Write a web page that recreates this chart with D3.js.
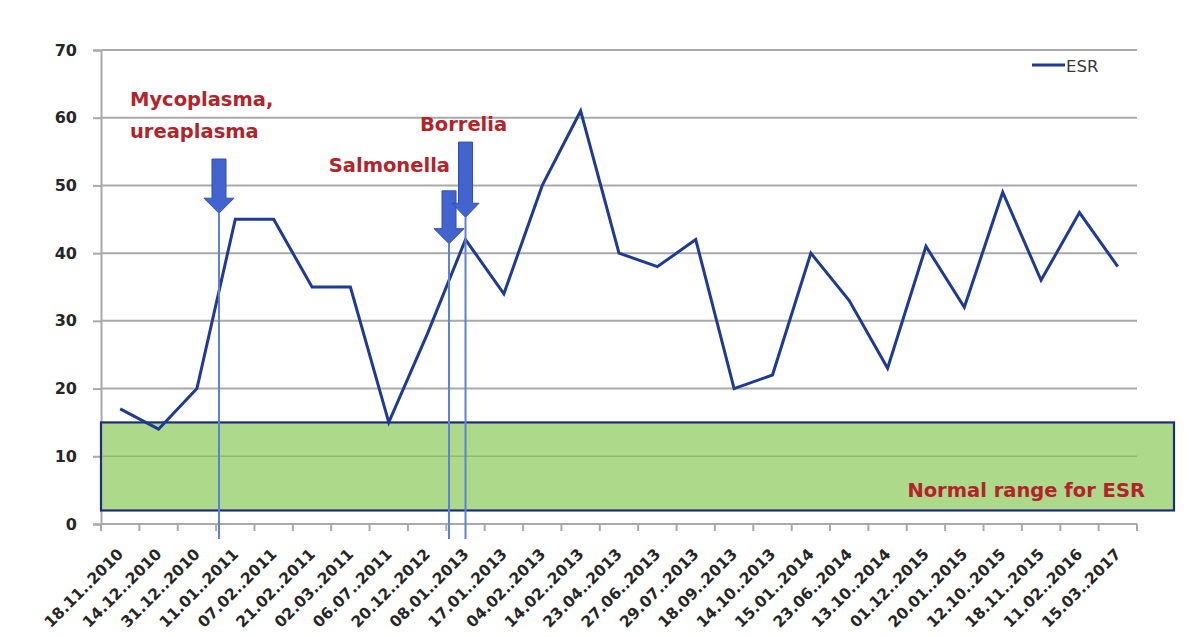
<!DOCTYPE html>
<html>
<head>
<meta charset="utf-8">
<script src="https://cdn.jsdelivr.net/npm/d3@7"></script>
<style>
  body { margin: 0; background: #fff; }
  svg { display: block; }
</style>
</head>
<body>
<svg id="chart" width="1192" height="637"></svg>
<script>
// Sampling dates (as printed on the chart)
const dates = [
  "18.11..2010", "14.12..2010", "31.12..2010", "11.01..2011", "07.02..2011",
  "21.02..2011", "02.03..2011", "06.07..2011", "20.12..2012", "08.01..2013",
  "17.01..2013", "04.02..2013", "14.02..2013", "23.04..2013", "27.06..2013",
  "29.07..2013", "18.09..2013", "14.10..2013", "15.01..2014", "23.06..2014",
  "13.10..2014", "01.12..2015", "20.01..2015", "12.10..2015", "18.11..2015",
  "11.02..2016", "15.03..2017"
];

// Erythrocyte sedimentation rate, mm/h
const esr = [
  17, 14, 20, 45, 45, 35, 35, 15, 28, 42,
  34, 50, 61, 40, 38, 42, 20, 22, 40, 33,
  23, 41, 32, 49, 36, 46, 38
];

const yTicks = [0, 10, 20, 30, 40, 50, 60, 70];

// Reference interval for ESR
const normalRange = [2, 15];
const normalLabel = "Normal range for ESR";

// Detected infections: fractional category position, arrow top and tip values
const infections = [
  { lines: ["Mycoplasma,", "ureaplasma"], at: 2.575, top: 53.9, tip: 45.9 },
  { lines: ["Salmonella"], at: 8.57, top: 49.2, tip: 41.4 },
  { lines: ["Borrelia"], at: 9.0, top: 56.4, tip: 45.3 }
];

const seriesName = "ESR";

// ---- layout ----
const W = 1192, H = 637;
const margin = { top: 50, right: 55, bottom: 113, left: 101 };
const plotW = W - margin.left - margin.right;
const plotH = H - margin.top - margin.bottom;

const svg = d3.select("#chart");
const g = svg.append("g").attr("transform", `translate(${margin.left},${margin.top})`);

const x = d3.scaleBand().domain(dates).range([0, plotW]).paddingInner(0).paddingOuter(0);
const xi = d3.scaleLinear().domain([-0.5, dates.length - 0.5]).range([0, plotW]);
const y = d3.scaleLinear().domain([0, 70]).range([plotH, 0]);

const gridColor = "#a9a9a9";
const fontBold = "'DejaVu Sans', Verdana, sans-serif";

// horizontal gridlines
g.append("g").selectAll("line")
  .data(yTicks.filter(d => d > 0))
  .join("line")
  .attr("x1", 0).attr("x2", plotW)
  .attr("y1", d => y(d)).attr("y2", d => y(d))
  .attr("stroke", gridColor).attr("stroke-width", 2);

// y axis
const yAxis = g.append("g")
  .call(d3.axisLeft(y).tickValues(yTicks).tickSize(8).tickPadding(16).tickFormat(d3.format("d")));
yAxis.select(".domain").attr("stroke", gridColor).attr("stroke-width", 2);
yAxis.selectAll(".tick line").attr("stroke", gridColor).attr("stroke-width", 2);
yAxis.selectAll(".tick text")
  .attr("fill", "#262626")
  .style("font-family", fontBold)
  .style("font-weight", "bold")
  .style("font-size", "16px");

// x axis with ticks between categories
const xAxisG = g.append("g").attr("transform", `translate(0,${plotH})`);
xAxisG.append("line")
  .attr("x1", 0).attr("x2", plotW).attr("y1", 0).attr("y2", 0)
  .attr("stroke", gridColor).attr("stroke-width", 2);
xAxisG.selectAll("line.tk")
  .data(d3.range(dates.length + 1))
  .join("line")
  .attr("class", "tk")
  .attr("x1", d => xi(d - 0.5)).attr("x2", d => xi(d - 0.5))
  .attr("y1", 0).attr("y2", 7)
  .attr("stroke", gridColor).attr("stroke-width", 2);
xAxisG.selectAll("text")
  .data(dates)
  .join("text")
  .attr("transform", d => `translate(${x(d) + x.bandwidth() / 2 + 4},${31}) rotate(-45)`)
  .attr("text-anchor", "end")
  .attr("fill", "#262626")
  .style("font-family", fontBold)
  .style("font-weight", "bold")
  .style("font-size", "15.5px")
  .text(d => d);

// normal range band
g.append("rect")
  .attr("x", 0)
  .attr("y", y(normalRange[1]))
  .attr("width", plotW + 37)
  .attr("height", y(normalRange[0]) - y(normalRange[1]))
  .attr("fill", "#acd98a")
  .attr("stroke", "#1f2d78")
  .attr("stroke-width", 2.2);
g.append("line")
  .attr("x1", 1).attr("x2", plotW)
  .attr("y1", y(10)).attr("y2", y(10))
  .attr("stroke", "#8dbb6b").attr("stroke-width", 1.5);
g.append("text")
  .attr("x", plotW + 8)
  .attr("y", y(normalRange[0]) - 13)
  .attr("text-anchor", "end")
  .attr("fill", "#b3232a")
  .style("font-family", fontBold)
  .style("font-weight", "bold")
  .style("font-size", "19.5px")
  .text(normalLabel);

// ESR line
const line = d3.line()
  .x((d, i) => x(dates[i]) + x.bandwidth() / 2)
  .y(d => y(d));
g.append("path")
  .datum(esr)
  .attr("d", line)
  .attr("fill", "none")
  .attr("stroke", "#1f3a93")
  .attr("stroke-width", 3)
  .attr("stroke-linejoin", "miter");

// infection markers: vertical guide, arrow, caption
const arrowShape = [
  { sw: 7, hw: 15, hl: 15, lab: [{ dx: -89, dy: -53, anchor: "start" }, { dx: -89, dy: -21, anchor: "start" }] },
  { sw: 7, hw: 15, hl: 15, lab: [{ dx: 1, dy: -19, anchor: "end" }] },
  { sw: 7, hw: 13.5, hl: 14, lab: [{ dx: -2, dy: -11, anchor: "middle" }] }
];

infections.forEach((inf, k) => {
  const cx = xi(inf.at);
  const yTop = y(inf.top), yTip = y(inf.tip);
  const s = arrowShape[k];

  g.append("line")
    .attr("x1", cx).attr("x2", cx)
    .attr("y1", yTip).attr("y2", plotH + 15)
    .attr("stroke", "#5f80d6").attr("stroke-width", 2);

  const yHead = yTip - s.hl;
  const pts = [
    [cx - s.sw, yTop], [cx + s.sw, yTop], [cx + s.sw, yHead], [cx + s.hw, yHead],
    [cx, yTip], [cx - s.hw, yHead], [cx - s.sw, yHead]
  ];
  g.append("polygon")
    .attr("points", pts.map(p => p.join(",")).join(" "))
    .attr("fill", "#4363cf")
    .attr("stroke", "#2f4fb3")
    .attr("stroke-width", 1);

  inf.lines.forEach((txt, j) => {
    const l = s.lab[j];
    g.append("text")
      .attr("x", cx + l.dx)
      .attr("y", yTop + l.dy)
      .attr("text-anchor", l.anchor)
      .attr("fill", "#b3232a")
      .style("font-family", fontBold)
      .style("font-weight", "bold")
      .style("font-size", "19.5px")
      .text(txt);
  });
});

// legend
const leg = g.append("g").attr("transform", `translate(${plotW - 105},${15})`);
leg.append("line")
  .attr("x1", 0).attr("x2", 33).attr("y1", 0).attr("y2", 0)
  .attr("stroke", "#1f3a93").attr("stroke-width", 3);
leg.append("text")
  .attr("x", 34).attr("y", 7)
  .attr("fill", "#3a3a3a")
  .style("font-family", "'DejaVu Sans', sans-serif")
  .style("font-size", "16.5px")
  .text(seriesName);
</script>
</body>
</html>
